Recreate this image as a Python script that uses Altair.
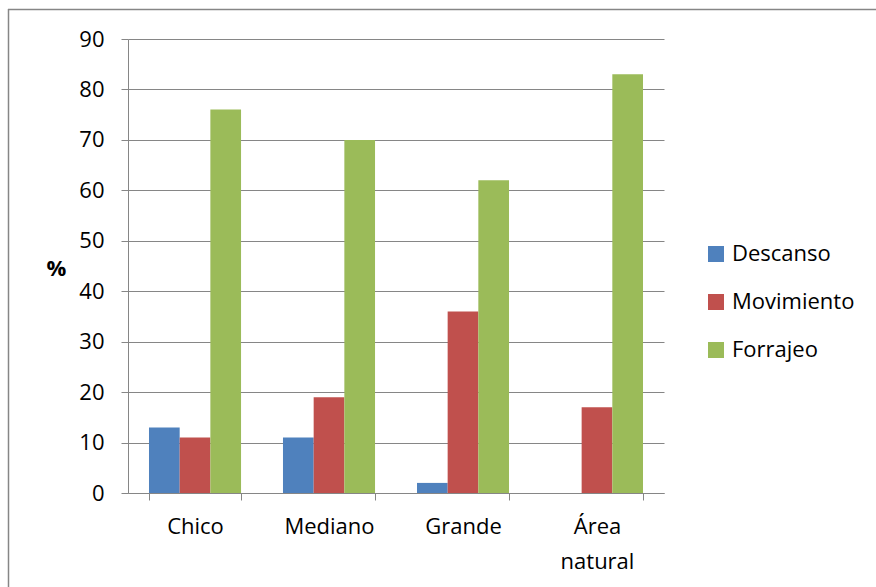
import altair as alt
import pandas as pd

categories = ["Chico", "Mediano", "Grande", "Área natural"]
series = ["Descanso", "Movimiento", "Forrajeo"]
descanso = [13, 11, 2, 0]
movimiento = [11, 19, 36, 17]
forrajeo = [76, 70, 62, 83]
colors = ["#4F81BD", "#C0504D", "#9BBB59"]
y_ticks = [0, 10, 20, 30, 40, 50, 60, 70, 80, 90]

rows = []
for s, vals in zip(series, [descanso, movimiento, forrajeo]):
    for c, v in zip(categories, vals):
        rows.append({"cat": c, "serie": s, "val": v})
df = pd.DataFrame(rows)

FONT = "Open Sans"
GRAY = "#868686"
FS = 22

bars = alt.Chart(df).mark_bar().encode(
    x=alt.X("cat:N", sort=categories,
            scale=alt.Scale(paddingInner=0.313, paddingOuter=0.1567),
            axis=alt.Axis(title=None, labelAngle=0, tickBand="extent",
                          tickSize=7, tickColor=GRAY, domainColor=GRAY,
                          labelFont=FONT, labelFontSize=FS, labelColor="#000000",
                          labelPadding=16, labelLineHeight=35,
                          labelExpr="split(datum.label, ' ')", grid=False)),
    xOffset=alt.XOffset("serie:N", sort=series, scale=alt.Scale(paddingInner=0, paddingOuter=0)),
    y=alt.Y("val:Q", scale=alt.Scale(domain=[0, 90], nice=False),
            axis=alt.Axis(values=y_ticks, title="%", titleAngle=0, titleX=-72, titleY=229,
                          titleAlign="center", titleBaseline="middle",
                          titleFont=FONT, titleFontSize=FS, titleFontWeight="bold",
                          titleColor="#000000",
                          labelFont=FONT, labelFontSize=FS, labelColor="#000000",
                          labelPadding=17, tickSize=7, tickColor=GRAY,
                          domainColor=GRAY, gridColor=GRAY, grid=True)),
    color=alt.Color("serie:N", sort=series,
                    scale=alt.Scale(domain=series, range=colors),
                    legend=alt.Legend(title=None, orient="none", legendX=577, legendY=204,
                                      symbolType="square", symbolSize=256,
                                      symbolStrokeWidth=0,
                                      labelFont=FONT, labelFontSize=FS, labelColor="#000000",
                                      rowPadding=26, labelOffset=5)),
)

frame_v = alt.Chart(alt.Data(values=[{}])).mark_rule(color=GRAY, strokeWidth=1.5).encode(
    x=alt.value(-119.5), y=alt.value(-30), y2=alt.value(700))
frame_h = alt.Chart(alt.Data(values=[{}])).mark_rule(color=GRAY, strokeWidth=1.5).encode(
    y=alt.value(-29.5), x=alt.value(-120), x2=alt.value(900))

chart = alt.layer(frame_v, frame_h, bars).properties(
    width=536, height=454,
    autosize=alt.AutoSizeParams(type="none"),
    padding={"left": 128, "top": 39, "right": 212, "bottom": 94},
    background="#ffffff",
).configure_view(stroke=None)

chart.save("out.html", embed_options={"renderer": "svg", "actions": False})
